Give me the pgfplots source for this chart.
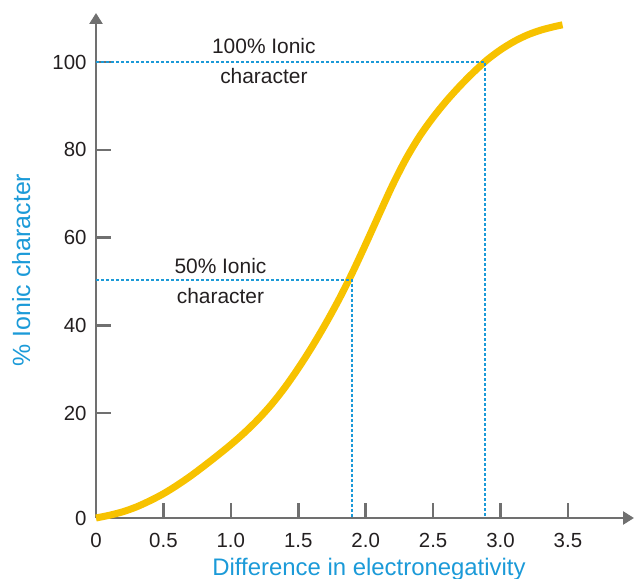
\documentclass[border=0pt]{standalone}
\usepackage{pgfplots}
\pgfplotsset{compat=1.18}
\usetikzlibrary{arrows.meta}
\usepackage{fontspec}
\setmainfont{Liberation Sans}
\definecolor{curve}{HTML}{F7C200}
\definecolor{lblue}{HTML}{1B9AD8}
\definecolor{axgray}{HTML}{707070}
\definecolor{txt}{HTML}{231F20}
\begin{document}
\begin{tikzpicture}
\begin{axis}[
  at={(96bp,61bp)}, anchor=south west,
  scale only axis, width=538bp, height=505bp,
  xmin=0, xmax=3.99, ymin=-3.93, ymax=111.2,
  axis lines=left,
  axis line style={axgray, line width=2.5bp, -{Triangle[length=11bp,width=13bp]}},
  tick align=inside,
  major tick length=15bp,
  tick style={axgray, line width=2.5bp},
  xtick={0,0.5,1,1.5,2,2.5,3,3.5},
  xticklabels={0,0.5,1.0,1.5,2.0,2.5,3.0,3.5},
  ytick={-3.93,20,40,60,80,100},
  yticklabels={0,20,40,60,80,100},
  /pgf/number format/assume math mode=true,
  ticklabel style={font=\fontsize{20.5}{24}\selectfont, text=txt},
  xticklabel style={yshift=-12bp},
  yticklabel style={xshift=-6bp},
  clip=false,
]
\addplot[curve, line width=7bp, smooth] coordinates {
(0,-3.93) (0.1,-3.3) (0.2,-2.5) (0.3,-1.4) (0.4,0.0) (0.5,1.6) (0.6,3.5)
(0.7,5.6) (0.8,7.9) (0.9,10.3) (1.0,12.8) (1.1,15.5) (1.2,18.5) (1.3,21.9)
(1.4,25.8) (1.5,30.2) (1.6,35.0) (1.7,40.2) (1.8,45.8) (1.9,51.9) (2.0,58.5)
(2.1,65.3) (2.2,72.0) (2.3,78.0) (2.4,83.1) (2.5,87.4) (2.6,91.2) (2.7,94.6)
(2.8,97.7) (2.9,100.5) (3.0,102.8) (3.1,104.7) (3.2,106.2) (3.3,107.3)
(3.4,108.1) (3.46,108.5)
};
\addplot[lblue, line width=1.5bp, dash pattern=on 3bp off 2bp] coordinates {(0,50.3) (1.9,50.3) (1.9,-3.93)};
\addplot[lblue, line width=1.5bp, dash pattern=on 3bp off 2bp] coordinates {(0,100) (2.884,100) (2.884,-3.93)};
\node[anchor=base, text=txt, font=\fontsize{21}{24}\selectfont] at (axis cs:1.245,102.05) {100\% Ionic};
\node[anchor=base, text=txt, font=\fontsize{21}{24}\selectfont] at (axis cs:1.245,95.21) {character};
\node[anchor=base, text=txt, font=\fontsize{21}{24}\selectfont] at (axis cs:0.923,51.9) {50\% Ionic};
\node[anchor=base, text=txt, font=\fontsize{21}{24}\selectfont] at (axis cs:0.923,45.07) {character};
\end{axis}
\node[rotate=90, anchor=base, text=lblue, font=\fontsize{25}{28}\selectfont] at (30bp,309bp) {\% Ionic character};
\node[anchor=base, text=lblue, font=\fontsize{24}{27}\selectfont] at (369bp,4bp) {Difference in electronegativity};
\pgfresetboundingbox
\useasboundingbox (0,0) rectangle (635bp,579bp);
\end{tikzpicture}
\end{document}
